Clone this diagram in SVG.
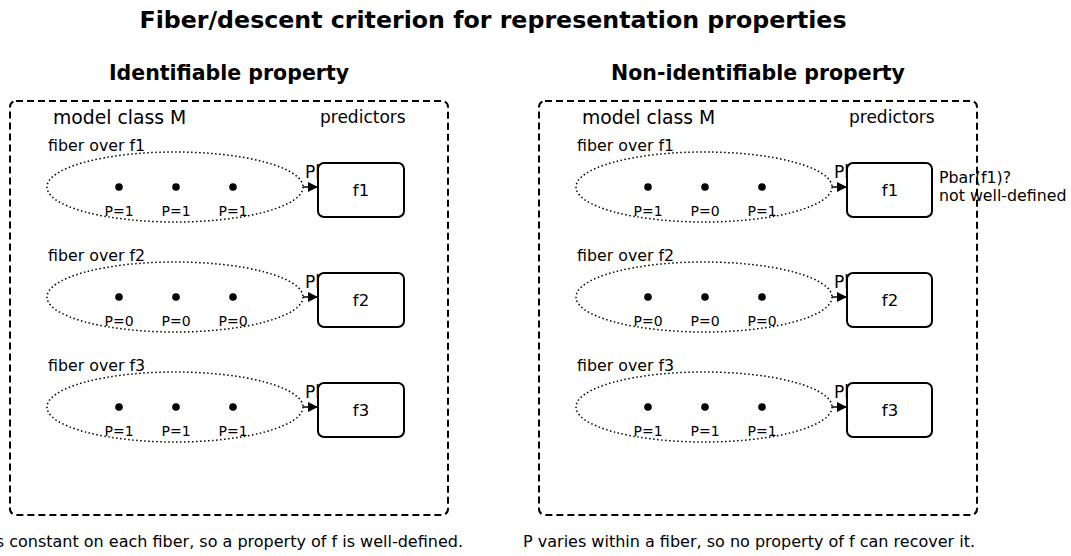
<svg xmlns="http://www.w3.org/2000/svg" width="1071" height="556" viewBox="0 0 1071 556">
<defs>
<marker id="ah" viewBox="0 0 10 10" refX="10" refY="5" markerWidth="10" markerHeight="10" markerUnits="userSpaceOnUse" orient="auto"><path d="M0,0 L10,5 L0,10 z" fill="#000"/></marker>
</defs>
<style>
text{font-family:"DejaVu Sans","Liberation Sans",sans-serif;fill:#000}
.title{font-size:23.7px;font-weight:bold}
.sub{font-size:20.5px;font-weight:bold}
.cls{font-size:18.8px}
.pred{font-size:17px}
.fib{font-size:15.8px}
.pl{font-size:14px}
.bl{font-size:17px}
.lbl{font-size:16.5px}
.note{font-size:15.8px}
.cap{font-size:16px}
.frame{fill:none;stroke:#000;stroke-width:2;stroke-dasharray:7,4}
.ell{fill:none;stroke:#000;stroke-width:1.5;stroke-dasharray:1.5,2.5}
.box{fill:#fff;stroke:#000;stroke-width:2}
.conn{stroke:#000;stroke-width:1.5;fill:none}
</style>
<rect width="1071" height="556" fill="#fff"/>
<text class="title" x="493" y="28" text-anchor="middle">Fiber/descent criterion for representation properties</text>
<text class="sub" x="229" y="80" text-anchor="middle">Identifiable property</text>
<text class="sub" x="758" y="80" text-anchor="middle">Non-identifiable property</text>

<g id="panel-left">
<rect class="frame" x="10" y="101" width="438" height="414" rx="6"/>
<text class="cls" x="53" y="124">model class M</text>
<text class="pred" x="320" y="123">predictors</text>
</g>
<g id="panel-right">
<rect class="frame" x="539" y="101" width="438" height="414" rx="6"/>
<text class="cls" x="582" y="124">model class M</text>
<text class="pred" x="849" y="123">predictors</text>
</g>

<g id="fiber-L1">
<text class="fib" x="48" y="151">fiber over f1</text>
<ellipse class="ell" cx="175" cy="187" rx="128" ry="35"/>
<circle cx="119" cy="187" r="3.8"/><circle cx="176" cy="187" r="3.8"/><circle cx="233" cy="187" r="3.8"/>
<text class="pl" x="119" y="216" text-anchor="middle">P=1</text><text class="pl" x="176" y="216" text-anchor="middle">P=1</text><text class="pl" x="233" y="216" text-anchor="middle">P=1</text>
</g>
<g id="fiber-L2">
<text class="fib" x="48" y="261">fiber over f2</text>
<ellipse class="ell" cx="175" cy="297" rx="128" ry="35"/>
<circle cx="119" cy="297" r="3.8"/><circle cx="176" cy="297" r="3.8"/><circle cx="233" cy="297" r="3.8"/>
<text class="pl" x="119" y="326" text-anchor="middle">P=0</text><text class="pl" x="176" y="326" text-anchor="middle">P=0</text><text class="pl" x="233" y="326" text-anchor="middle">P=0</text>
</g>
<g id="fiber-L3">
<text class="fib" x="48" y="371">fiber over f3</text>
<ellipse class="ell" cx="175" cy="407" rx="128" ry="35"/>
<circle cx="119" cy="407" r="3.8"/><circle cx="176" cy="407" r="3.8"/><circle cx="233" cy="407" r="3.8"/>
<text class="pl" x="119" y="436" text-anchor="middle">P=1</text><text class="pl" x="176" y="436" text-anchor="middle">P=1</text><text class="pl" x="233" y="436" text-anchor="middle">P=1</text>
</g>

<g id="fiber-R1">
<text class="fib" x="577" y="151">fiber over f1</text>
<ellipse class="ell" cx="704" cy="187" rx="128" ry="35"/>
<circle cx="648" cy="187" r="3.8"/><circle cx="705" cy="187" r="3.8"/><circle cx="762" cy="187" r="3.8"/>
<text class="pl" x="648" y="216" text-anchor="middle">P=1</text><text class="pl" x="705" y="216" text-anchor="middle">P=0</text><text class="pl" x="762" y="216" text-anchor="middle">P=1</text>
</g>
<g id="fiber-R2">
<text class="fib" x="577" y="261">fiber over f2</text>
<ellipse class="ell" cx="704" cy="297" rx="128" ry="35"/>
<circle cx="648" cy="297" r="3.8"/><circle cx="705" cy="297" r="3.8"/><circle cx="762" cy="297" r="3.8"/>
<text class="pl" x="648" y="326" text-anchor="middle">P=0</text><text class="pl" x="705" y="326" text-anchor="middle">P=0</text><text class="pl" x="762" y="326" text-anchor="middle">P=0</text>
</g>
<g id="fiber-R3">
<text class="fib" x="577" y="371">fiber over f3</text>
<ellipse class="ell" cx="704" cy="407" rx="128" ry="35"/>
<circle cx="648" cy="407" r="3.8"/><circle cx="705" cy="407" r="3.8"/><circle cx="762" cy="407" r="3.8"/>
<text class="pl" x="648" y="436" text-anchor="middle">P=1</text><text class="pl" x="705" y="436" text-anchor="middle">P=1</text><text class="pl" x="762" y="436" text-anchor="middle">P=1</text>
</g>

<g id="connectors">
<line class="conn" x1="303" y1="187" x2="318" y2="187" marker-end="url(#ah)"/>
<line class="conn" x1="303" y1="297" x2="318" y2="297" marker-end="url(#ah)"/>
<line class="conn" x1="303" y1="407" x2="318" y2="407" marker-end="url(#ah)"/>
<line class="conn" x1="832" y1="187" x2="847" y2="187" marker-end="url(#ah)"/>
<line class="conn" x1="832" y1="297" x2="847" y2="297" marker-end="url(#ah)"/>
<line class="conn" x1="832" y1="407" x2="847" y2="407" marker-end="url(#ah)"/>
<text class="bl" x="305" y="178">Pbar</text>
<text class="bl" x="305" y="288">Pbar</text>
<text class="bl" x="305" y="398">Pbar</text>
<text class="bl" x="834" y="178">Pbar</text>
<text class="bl" x="834" y="288">Pbar</text>
<text class="bl" x="834" y="398">Pbar</text>
</g>

<g id="box-L1"><rect class="box" x="318" y="163" width="86" height="54" rx="6"/><text class="lbl" x="361" y="196" text-anchor="middle">f1</text></g>
<g id="box-L2"><rect class="box" x="318" y="273" width="86" height="54" rx="6"/><text class="lbl" x="361" y="306" text-anchor="middle">f2</text></g>
<g id="box-L3"><rect class="box" x="318" y="383" width="86" height="54" rx="6"/><text class="lbl" x="361" y="416" text-anchor="middle">f3</text></g>
<g id="box-R1"><rect class="box" x="847" y="163" width="85" height="54" rx="6"/><text class="lbl" x="890" y="196" text-anchor="middle">f1</text></g>
<g id="box-R2"><rect class="box" x="847" y="273" width="85" height="54" rx="6"/><text class="lbl" x="890" y="306" text-anchor="middle">f2</text></g>
<g id="box-R3"><rect class="box" x="847" y="383" width="85" height="54" rx="6"/><text class="lbl" x="890" y="416" text-anchor="middle">f3</text></g>

<g id="note-R1">
<text class="note" x="939" y="183">Pbar(f1)?</text>
<text class="note" x="939" y="201">not well-defined</text>
</g>

<text class="cap" x="463" y="547" text-anchor="end">P is constant on each fiber, so a property of f is well-defined.</text>
<text class="cap" x="975" y="547" text-anchor="end">P varies within a fiber, so no property of f can recover it.</text>
</svg>
